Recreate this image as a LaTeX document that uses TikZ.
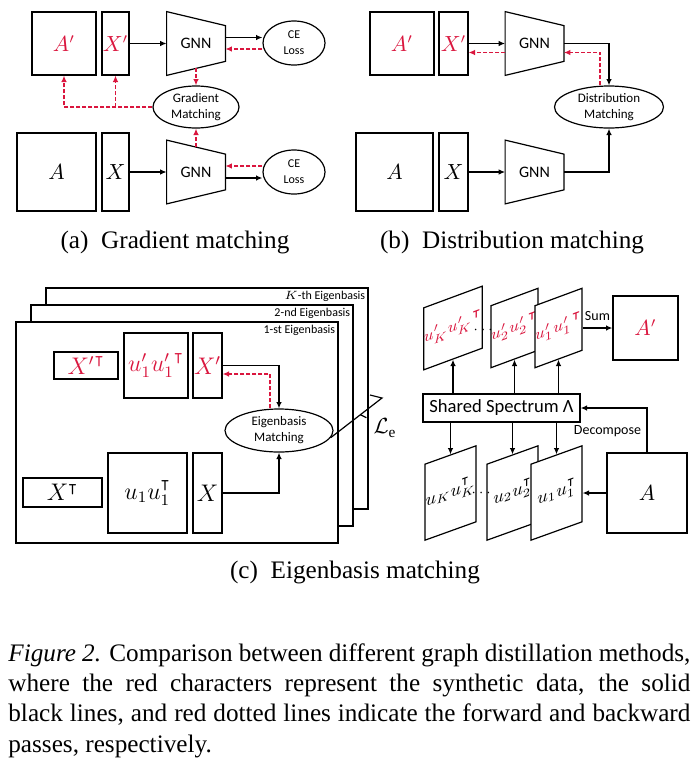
\documentclass[tikz,border=0pt]{standalone}
\usepackage{amsmath,amssymb}
\usepackage{fontspec}
\setmainfont{Liberation Serif}
\setsansfont{Carlito}
\usetikzlibrary{arrows.meta,calc,shapes.geometric}
\definecolor{synred}{RGB}{218,22,62}

\begin{document}
\begin{tikzpicture}[x=0.5pt,y=-0.5pt,
  mat/.style={draw, line width=0.6pt, inner sep=0pt, font=\fontsize{10.5}{12}\selectfont},
  syn/.style={text=synred},
  gnn/.style={inner sep=0pt, minimum width=29pt, minimum height=31.5pt, font=\sffamily\fontsize{8}{9}\selectfont},
  oval/.style={draw, ellipse, line width=0.6pt, inner sep=0pt, align=center, font=\sffamily\fontsize{6.5}{8}\selectfont},
  small/.style={font=\sffamily\fontsize{7}{8}\selectfont},
  fwd/.style={line width=0.7pt, -{Latex[length=3.2pt,width=2.8pt]}},
  bwd/.style={synred, line width=0.7pt, dash pattern=on 2pt off 1pt, -{Latex[length=3.2pt,width=2.8pt]}},
  page/.style={draw, fill=white, line width=0.6pt, minimum width=161pt, minimum height=110.5pt, inner sep=0pt},
  pagelbl/.style={anchor=north east, inner sep=1.5pt, font=\sffamily\fontsize{6}{7}\selectfont},
  plate/.style={draw, fill=white, line width=0.6pt, inner sep=0pt},
  dots/.style={inner sep=0pt, font=\fontsize{7}{8}\selectfont},
  subcap/.style={anchor=base, font=\fontsize{12.6}{15}\selectfont}]
\useasboundingbox (0,0) rectangle (700,766);

% (a) gradient matching
\node[mat, syn, minimum width=32pt, minimum height=31.5pt] (sAa) at (64,43.5) {$A'$};
\node[mat, syn, minimum width=13.5pt, minimum height=31.5pt] (sXa) at (115.5,43.5) {$X'$};
\node[gnn] (gTa) at (196,43.5) {GNN};
\node[oval, font=\sffamily\fontsize{6}{8}\selectfont, minimum width=31pt, minimum height=22pt] (ceTa) at (294,43) {CE\\Loss};
\node[oval, minimum width=43pt, minimum height=21pt] (gmA) at (196,107) {Gradient\\Matching};
\node[mat, minimum width=39.5pt, minimum height=39pt] (rAa) at (56.5,172) {$A$};
\node[mat, minimum width=13.5pt, minimum height=39pt] (rXa) at (115.5,172) {$X$};
\node[gnn] (gBa) at (196,172) {GNN};
\node[oval, font=\sffamily\fontsize{6}{8}\selectfont, minimum width=31pt, minimum height=22pt] (ceBa) at (294,172) {CE\\Loss};

% (b) distribution matching
\node[mat, syn, minimum width=32pt, minimum height=31.5pt] (sAb) at (402,43.5) {$A'$};
\node[mat, syn, minimum width=14.5pt, minimum height=31.5pt] (sXb) at (453.5,43.5) {$X'$};
\node[gnn] (gTb) at (534.5,43.5) {GNN};
\node[oval, minimum width=54.5pt, minimum height=21pt] (dmB) at (609,107) {Distribution\\Matching};
\node[mat, minimum width=38.5pt, minimum height=39pt] (rAb) at (394.5,172) {$A$};
\node[mat, minimum width=14.5pt, minimum height=39pt] (rXb) at (453.5,172) {$X$};
\node[gnn] (gBb) at (534.5,172) {GNN};

\foreach \g in {gTa,gBa,gTb,gBb}
  \draw[line width=0.6pt] (\g.north west) -- ($(\g.north east)+(0,14)$) -- ($(\g.south east)+(0,-14)$) -- (\g.south west) -- cycle;

\draw[fwd] (sXa) -- (gTa);
\draw[fwd] ([yshift=3pt]gTa.east) -- ([yshift=3pt]gTa.east -| ceTa.west);
\draw[bwd] ([yshift=-3pt]ceTa.west) -- ([yshift=-3pt]ceTa.west -| gTa.east);
\draw[bwd] ([yshift=3.5pt]gTa.south) -- (gmA);
\draw[bwd] (gmA.west) -| (sAa.south);
\draw[bwd] (gmA.west -| sXa.south) -- (sXa.south);
\draw[fwd] (rXa) -- (gBa);
\draw[bwd] ([yshift=-3.5pt]gBa.north) -- (gmA);
\draw[bwd] ([yshift=3pt]ceBa.west) -- ([yshift=3pt]ceBa.west -| gBa.east);
\draw[fwd] ([yshift=-3pt]gBa.east) -- ([yshift=-3pt]gBa.east -| ceBa.west);

\draw[fwd] (sXb) -- (gTb);
\draw[bwd] ([yshift=-4.5pt]gTb.west) -- ([yshift=-4.5pt]gTb.west -| sXb.east);
\draw[fwd] (gTb.east) -| (dmB);
\draw[bwd] ([xshift=-4.5pt]dmB.north) |- ([yshift=-4.5pt]gTb.east);
\draw[fwd] (rXb) -- (gBb);
\draw[fwd] (gBb.east) -| (dmB);

\node[subcap] (capa) at (175,248) {(a)\enspace Gradient matching};
\node[subcap] (capb) at (512,248) {(b)\enspace Distribution matching};

% (c) eigenbasis matching
\foreach \n/\x/\y/\t in {K/207/398.5/{$K$-th}, 2/192/415.5/2-nd, 1/177/432.5/1-st} {
  \node[page] (pg\n) at (\x,\y) {};
  \node[pagelbl] (lb\n) at (pg\n.north east) {\t\ Eigenbasis};
}
\node[mat, syn, font=\fontsize{11.5}{13}\selectfont, minimum width=32pt, minimum height=13.5pt] (sXtc) at (86,365.5) {${X'}^{\intercal}$};
\node[mat, syn, font=\fontsize{11.5}{13}\selectfont, minimum width=32pt, minimum height=32.5pt] (sUc) at (156,365.5) {$u_1'{u_1'}^{\intercal}$};
\node[mat, syn, font=\fontsize{11.5}{13}\selectfont, minimum width=14.5pt, minimum height=32.5pt] (sXc) at (207.5,365.5) {$X'$};
\node[oval, minimum width=54pt, minimum height=21.5pt] (emC) at (279,430.5) {Eigenbasis\\Matching};
\node[mat, font=\fontsize{11.5}{13}\selectfont, minimum width=39.5pt, minimum height=14.5pt] (rXtc) at (62.5,492.5) {$X^{\intercal}$};
\node[mat, font=\fontsize{11.5}{13}\selectfont, minimum width=39.5pt, minimum height=40pt] (rUc) at (147.5,493) {$u_1u_1^{\intercal}$};
\node[mat, font=\fontsize{11.5}{13}\selectfont, minimum width=14.5pt, minimum height=40pt] (rXc) at (207.5,493) {$X$};

\draw[fwd] (sXc.east) -| (emC);
\draw[bwd] ([xshift=-4.5pt]emC.north) |- ([yshift=-4.25pt]sXc.east);
\draw[fwd] (rXc.east) -| (emC);

\node[font=\fontsize{11}{12}\selectfont] (Le) at (385,428) {$\mathcal{L}_\mathrm{e}$};
\coordinate (brace) at (382,398);
\draw[line width=0.6pt] (emC.-8) -- (brace) -- ++(-12,-3);
\draw[line width=0.6pt] ($(emC.-8)!0.58!(brace)$) -- ++(6,3);

% spectrum side
\foreach \n/\x/\t in {pK/453/{$u_K'{u_K'}^{\intercal}$}, p2/514.5/{$u_2'{u_2'}^{\intercal}$}, p1/558.5/{$u_1'{u_1'}^{\intercal}$}}
  \node[plate, syn, yslant=0.37, minimum width=21.5pt, minimum height=31pt, font=\fontsize{8.4}{10}\selectfont] (\n) at (\x,328) {\t};
\foreach \n/\x/\t in {qK/450.5/{$u_Ku_K^{\intercal}$}, q2/512.5/{$u_2u_2^{\intercal}$}, q1/556.5/{$u_1u_1^{\intercal}$}}
  \node[plate, yslant=0.36, minimum width=25.5pt, minimum height=38pt, font=\fontsize{9}{11}\selectfont] (\n) at (\x,493) {\t};
\node[dots] (dT) at (484.5,330) {$\cdots$};
\node[dots] (dB) at (482.5,493) {$\cdots$};

\node[draw, line width=0.6pt, inner sep=0pt, minimum width=78.5pt, minimum height=14pt, font=\sffamily\fontsize{9.3}{11}\selectfont] (spec) at (501.5,408) {Shared Spectrum Λ};
\foreach \n in {pK,p2,p1} \draw[fwd] (spec.north -| \n.south) -- (\n.south);
\foreach \n in {qK,q2,q1} \draw[fwd] (spec.south -| \n.north) -- (\n.north);

\node[mat, syn, minimum width=32.5pt, minimum height=32pt] (sA2) at (645.5,328) {$A'$};
\node[mat, minimum width=40pt, minimum height=40pt] (rA2) at (647,493) {$A$};
\draw[fwd] (p1.east |- sA2.west) -- (sA2.west) node[midway, above, small] {Sum};
\draw[fwd] (rA2.west) -- (rA2.west -| q1.east);
\draw[fwd] (rA2.north) |- (spec.east);
\node[small] (dec) at (607.5,431) {Decompose};

\node[subcap] (capc) at (355,578) {(c)\enspace Eigenbasis matching};

% figure caption
\node[anchor=north west, inner sep=0pt, text width=341pt, align=justify, font=\fontsize{12.6}{15.2}\selectfont] (cap) at (8,643) {\textit{Figure 2.} Comparison between different graph distillation methods,\linebreak where the red characters represent the synthetic data, the solid\linebreak black lines, and red dotted lines indicate the forward and backward\linebreak passes, respectively.};
\end{tikzpicture}
\end{document}
